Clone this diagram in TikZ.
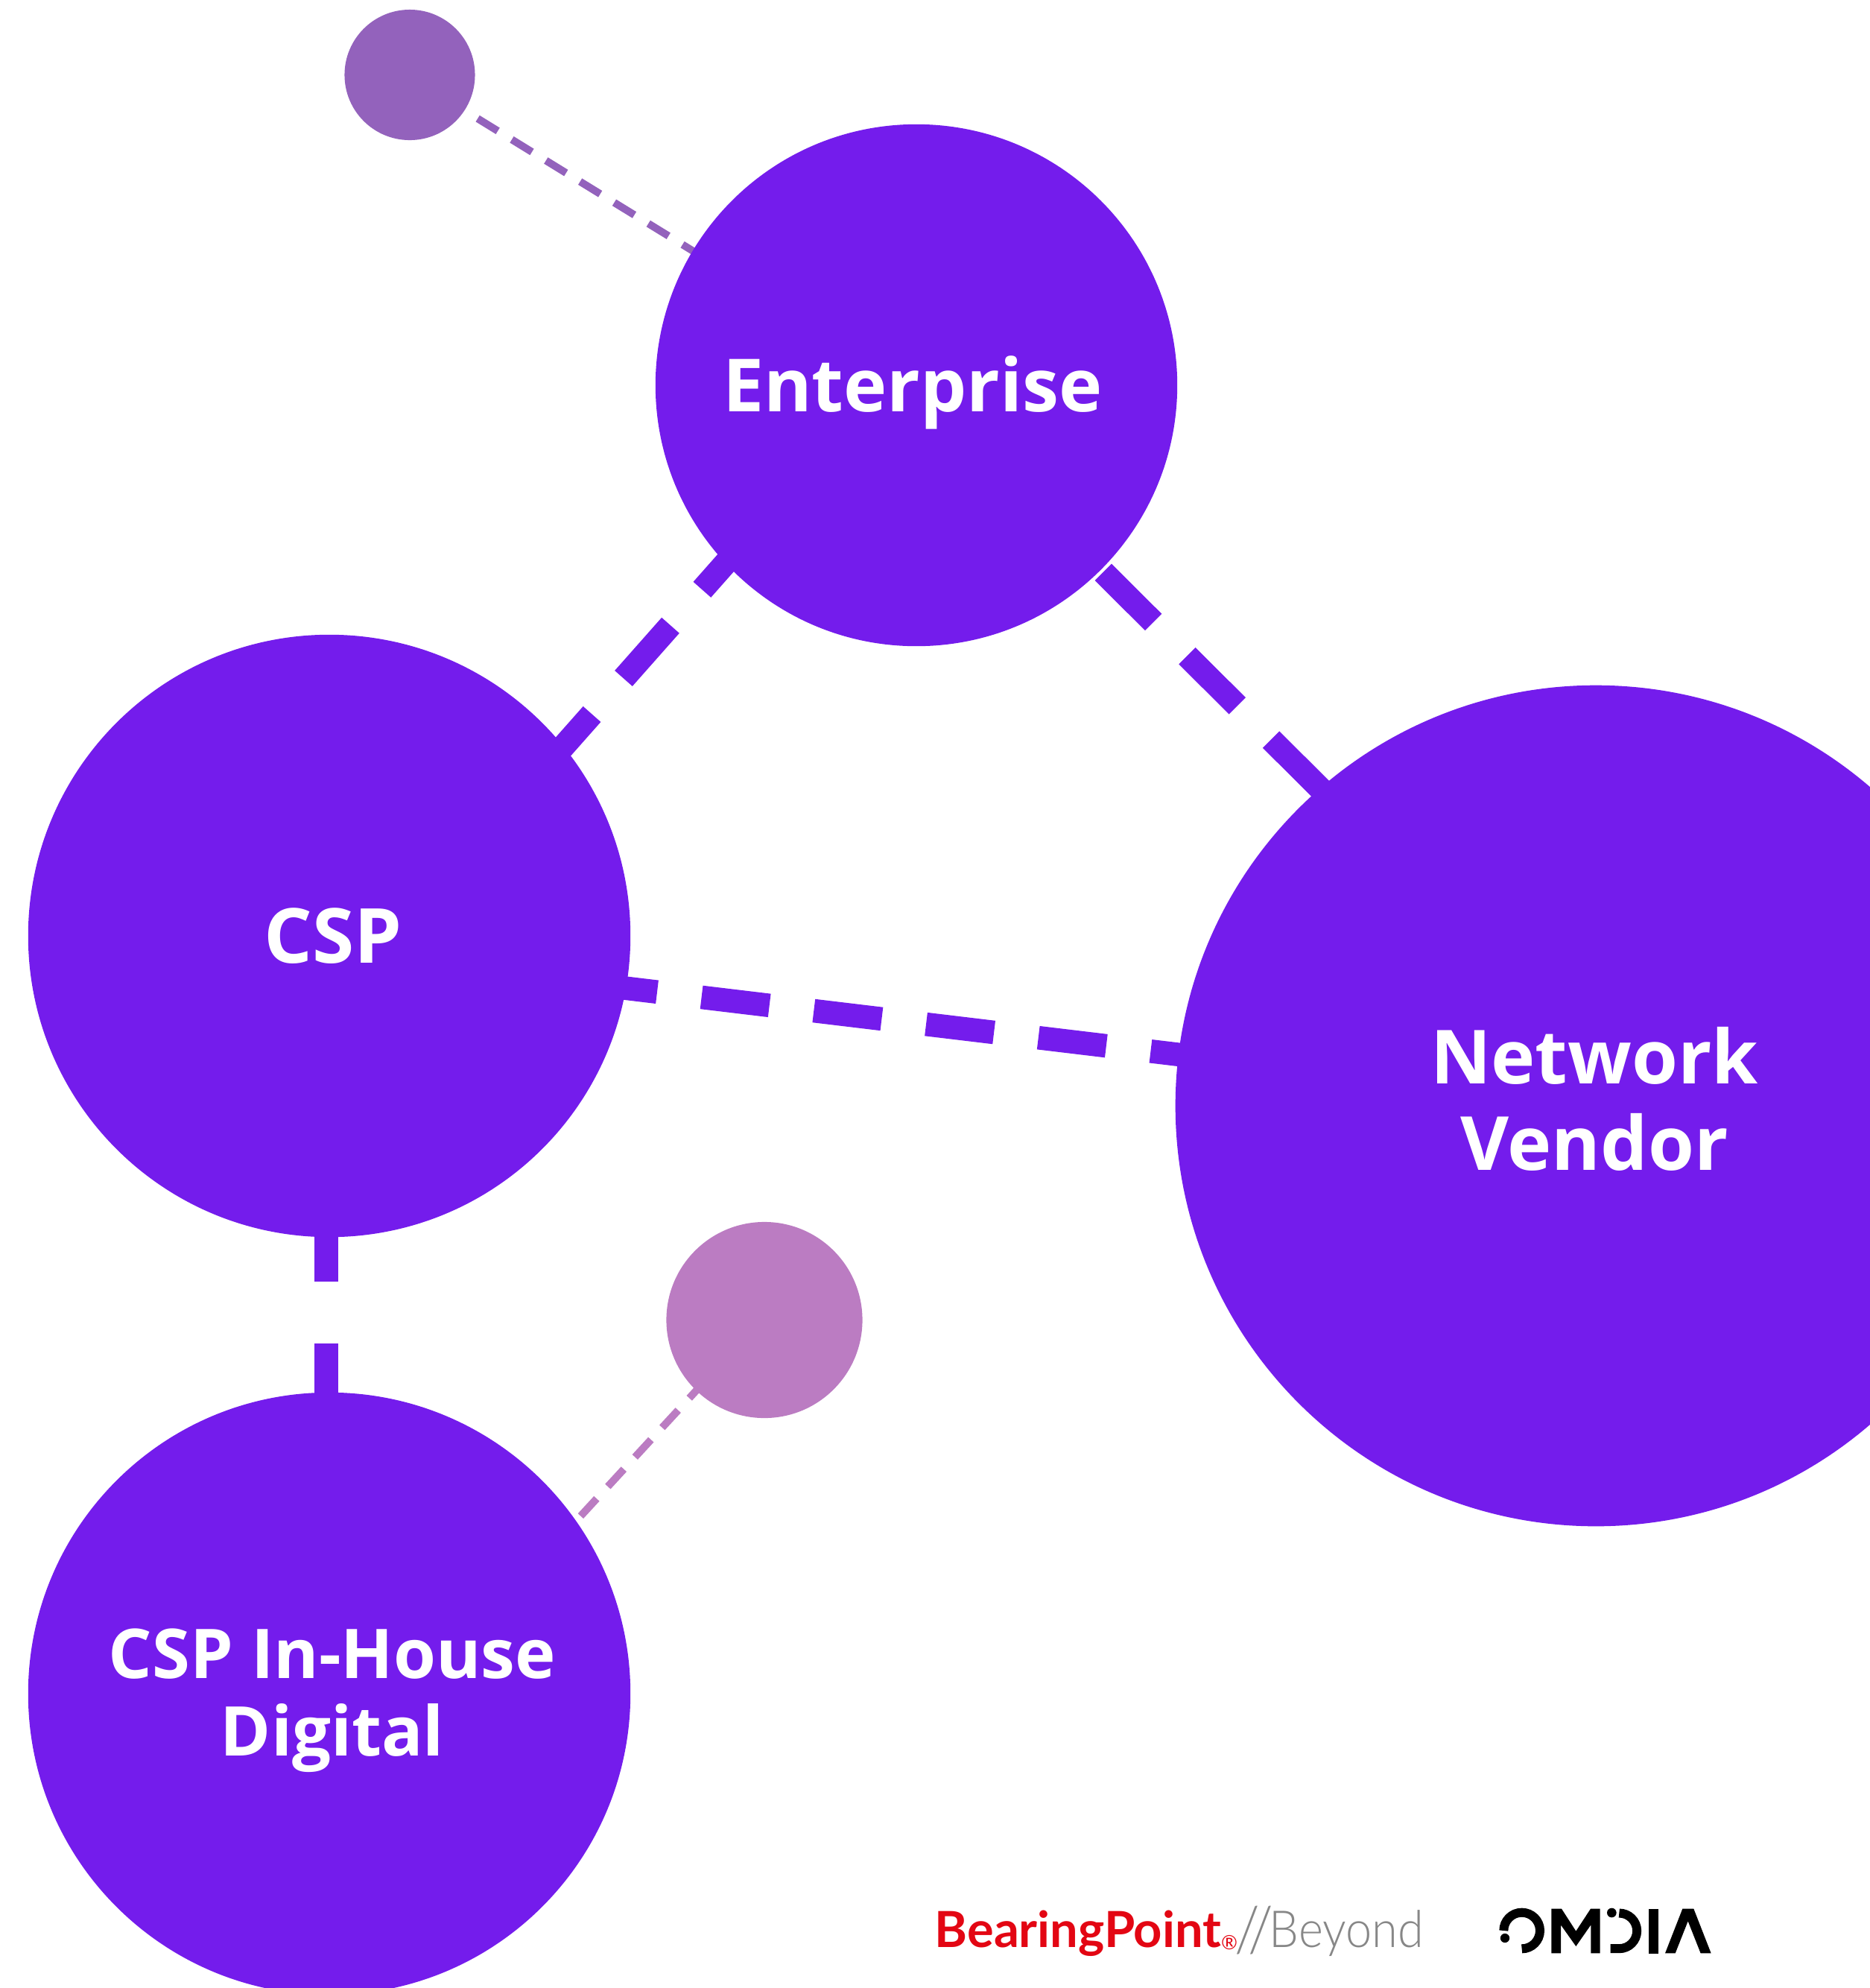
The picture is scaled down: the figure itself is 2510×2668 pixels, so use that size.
\documentclass[tikz,border=0pt]{standalone}
\usepackage{fontspec}
\setmainfont{Open Sans}
\newfontfamily\brandfont{Lato}
\newfontfamily\beyondfont{Lato}[UprightFont=* Light, FakeStretch=0.92]
\usetikzlibrary{backgrounds}

\definecolor{partyviolet}{HTML}{741CEC}
\definecolor{topviolet}{HTML}{9362BC}
\definecolor{lowpink}{HTML}{BB7CC2}
\definecolor{brandred}{HTML}{E30613}
\definecolor{brandgray}{HTML}{878787}

\begin{document}
\begin{tikzpicture}[
    x=0.01cm, y=-0.01cm,
    party/.style={circle, fill=partyviolet, inner sep=0pt},
    partytext/.style={text=white, align=center, inner sep=0pt, font=\fontsize{#1}{33}\selectfont\bfseries},
    minor/.style={circle, inner sep=0pt},
    biglink/.style={draw=partyviolet, line width=0.316cm, shorten <=-0.2cm, shorten >=-0.2cm},
    thinlink/.style={line width=0.1cm, shorten >=-0.1cm, dash pattern=on 0.317cm off 0.2207cm},
    brandtext/.style={inner sep=0pt, anchor=base west, font=\brandfont\fontsize{#1}{#1}\selectfont}
]
\useasboundingbox (0,0) rectangle (2510,2668);

% Small circles
\node[minor, fill=topviolet, minimum size=1.75cm] (topdot) at (550,100.5) {};
\node[minor, fill=lowpink, minimum size=2.63cm] (lowdot) at (1026,1771.5) {};

% Parties
\node[party, minimum size=7cm] (enterprise) at (1230,517) {};
\node[party, minimum size=8.08cm] (csp) at (442,1256) {};
\node[party, minimum size=11.28cm] (vendor) at (2142,1484) {};
\node[party, minimum size=8.08cm] (inhouse) at (442,2273) {};

% Labels
\node[partytext=28] (enterprisetext) at (1225,527) {Enterprise};
\node[partytext=29] (csptext) at (447,1256) {CSP};
\node[partytext=28.5] (vendortext) at (2140,1475) {Network\\Vendor};
\node[partytext=26, font=\fontsize{26.2}{29.6}\selectfont\bfseries] (inhousetext) at (446,2282.5) {CSP In-House\\Digital};

% Links, under the circles
\begin{scope}[on background layer]
    \draw[biglink, dash pattern=on 0.95cm off 0.64cm, dash phase=0.283cm] (enterprise.223.3) -- (csp.39.1);
    \draw[biglink, dash pattern=on 0.95cm off 0.64cm, dash phase=1.352cm] (enterprise.-45) -- (vendor.131);
    \draw[biglink, dash pattern=on 0.917cm off 0.6cm, dash phase=0.302cm] (csp.-10) -- (vendor.173);
    \draw[biglink, dash pattern=on 0.95cm off 0.83cm, dash phase=0.157cm] ([xshift=-0.04cm]csp.south) -- ([xshift=-0.04cm]inhouse.north);
    \draw[thinlink, draw=topviolet, dash phase=0.3367cm] (topdot.-33.9) -- (enterprise.149.8);
    \draw[thinlink, draw=lowpink, dash phase=0.4538cm] (inhouse.35.5) -- (lowdot.226.8);
\end{scope}

% BearingPoint logo
\node[brandtext=19, text=brandred] (bearing) at (1254,2613) {\bfseries BearingPoint};
\node[brandtext=7.5, text=brandred, anchor=center] (regmark) at (1650,2607) {®};
\node[brandtext=24, text=brandgray, font=\beyondfont\fontsize{24}{24}\selectfont] (slashes) at (1657,2619) {//};
\node[brandtext=19.5, text=brandgray, font=\beyondfont\fontsize{19.5}{19.5}\selectfont] (beyond) at (1703,2613) {Beyond};

% Omdia logo
\begin{scope}[shift={(1960,2520)}, scale=1/3]
    \draw[line width=0.12cm] (175,213) arc (180:450:73);
    \fill (180,243) circle (18.5);
    \fill (367,125) -- (408,125) -- (466,215) -- (525,125) -- (563,125) -- (563,304)
        -- (526,304) -- (526,190) -- (466,276) -- (405,190) -- (405,304) -- (367,304) -- cycle;
    \fill (610,141) circle (19);
    \draw[line width=0.12cm] (640,142.5) arc (-90:90:71.5) -- (605,285.5);
    \fill (759,125) rectangle (798,305);
    \fill (825,304) -- (895,125) -- (940,125) -- (1010,304) -- (968,304) -- (917,175) -- (866,304) -- cycle;
\end{scope}

\end{tikzpicture}
\end{document}
